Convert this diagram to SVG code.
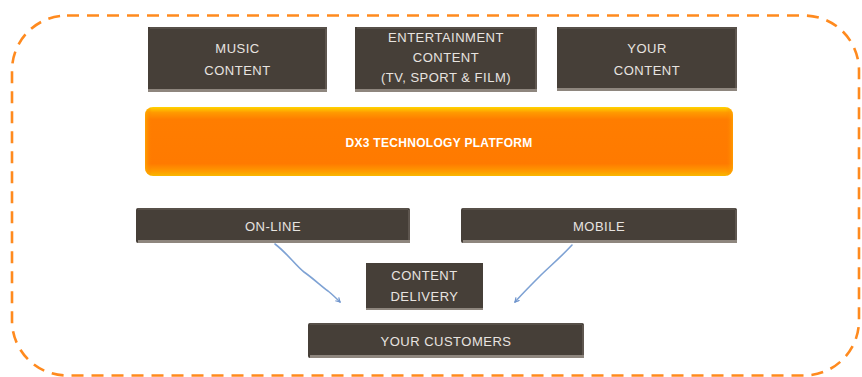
<svg xmlns="http://www.w3.org/2000/svg" width="862" height="377" viewBox="0 0 862 377">
  <defs>
    <style>
      .lbl { font-family: "Liberation Sans", Arial, sans-serif; font-size: 13px; fill: #E8E4E0; text-anchor: middle; letter-spacing: 0.5px; }
      .big { font-weight: bold; fill: #FFFFFF; font-size: 12px; letter-spacing: 0.3px; }
      .box { fill: #463F38; }
      .edge-b { fill: #8E867E; }
      .edge-t { fill: #575049; }
      .edge-r { fill: #5E564F; }
      .frame { fill: none; stroke: #FF8A1E; stroke-width: 2.6; stroke-dasharray: 12 8; }
      .link { fill: none; stroke: #7EA2D4; stroke-width: 1.6; stroke-linecap: round; }
    </style>
    <linearGradient id="orangeBar" x1="0" y1="0" x2="0" y2="1">
      <stop offset="0" stop-color="#FFD400"/>
      <stop offset="0.08" stop-color="#FF9A00"/>
      <stop offset="0.18" stop-color="#FF7D00"/>
      <stop offset="0.82" stop-color="#FF7A00"/>
      <stop offset="0.93" stop-color="#FF9A00"/>
      <stop offset="1" stop-color="#F8B800"/>
    </linearGradient>
    <linearGradient id="orangeSide" x1="0" y1="0" x2="1" y2="0">
      <stop offset="0" stop-color="#FFB000" stop-opacity="0.7"/>
      <stop offset="0.012" stop-color="#FF7A00" stop-opacity="0"/>
      <stop offset="0.988" stop-color="#FF7A00" stop-opacity="0"/>
      <stop offset="1" stop-color="#FFB000" stop-opacity="0.6"/>
    </linearGradient>
    <marker id="tip" viewBox="0 0 10 10" refX="8" refY="5" markerWidth="6" markerHeight="6" orient="auto" markerUnits="userSpaceOnUse">
      <path d="M1,1 L8,5 L1,9" fill="none" stroke="#6F94CC" stroke-width="2"/>
    </marker>
  </defs>

  <!-- dashed outline -->
  <rect class="frame" x="12" y="15.5" width="847" height="360" rx="55" ry="55"/>

  <!-- top row: content sources -->
  <g id="music">
    <rect class="box" x="148" y="27" width="179" height="65"/>
    <rect class="edge-t" x="150" y="27" width="177" height="2"/>
    <rect class="edge-r" x="325" y="29" width="2" height="61"/>
    <rect class="edge-b" x="148" y="89" width="179" height="3"/>
    <text class="lbl" x="237.5" y="52.5">MUSIC</text>
    <text class="lbl" x="237.5" y="74.5">CONTENT</text>
  </g>

  <g id="entertainment">
    <rect class="box" x="355" y="27" width="182" height="65"/>
    <rect class="edge-t" x="357" y="27" width="180" height="2"/>
    <rect class="edge-r" x="535" y="29" width="2" height="61"/>
    <rect class="edge-b" x="355" y="89" width="182" height="3"/>
    <text class="lbl" x="446" y="42">ENTERTAINMENT</text>
    <text class="lbl" x="446" y="62">CONTENT</text>
    <text class="lbl" x="446" y="82">(TV, SPORT &amp; FILM)</text>
  </g>

  <g id="your-content">
    <rect class="box" x="557" y="27" width="180" height="64"/>
    <rect class="edge-t" x="559" y="27" width="178" height="2"/>
    <rect class="edge-r" x="735" y="29" width="2" height="60"/>
    <rect class="edge-b" x="557" y="88" width="180" height="3"/>
    <text class="lbl" x="647" y="52.5">YOUR</text>
    <text class="lbl" x="647" y="74.5">CONTENT</text>
  </g>

  <!-- platform bar -->
  <g id="platform">
    <rect x="145" y="107" width="588" height="69" rx="8" ry="8" fill="url(#orangeBar)"/>
    <rect x="145" y="107" width="588" height="69" rx="8" ry="8" fill="url(#orangeSide)"/>
    <text class="lbl big" x="439" y="146.5">DX3 TECHNOLOGY PLATFORM</text>
  </g>

  <!-- delivery channels -->
  <g id="online">
    <rect class="box" x="136" y="208" width="274" height="35" rx="2"/>
    <rect class="edge-t" x="138" y="208" width="270" height="2"/>
    <rect class="edge-r" x="408" y="210" width="2" height="31"/>
    <rect class="edge-b" x="138" y="240" width="272" height="3"/>
    <text class="lbl" x="273" y="230.5">ON-LINE</text>
  </g>

  <g id="mobile">
    <rect class="box" x="461" y="208" width="276" height="35" rx="2"/>
    <rect class="edge-t" x="463" y="208" width="272" height="2"/>
    <rect class="edge-r" x="735" y="210" width="2" height="31"/>
    <rect class="edge-b" x="463" y="240" width="274" height="3"/>
    <text class="lbl" x="599" y="230.5">MOBILE</text>
  </g>

  <g id="content-delivery">
    <rect class="box" x="366" y="263" width="117" height="47"/>
    <rect class="edge-b" x="366" y="308" width="117" height="2"/>
    <text class="lbl" x="424.5" y="280">CONTENT</text>
    <text class="lbl" x="424.5" y="301">DELIVERY</text>
  </g>

  <g id="customers">
    <rect class="box" x="308" y="323" width="276" height="35" rx="2"/>
    <rect class="edge-t" x="310" y="323" width="272" height="2"/>
    <rect class="edge-r" x="582" y="325" width="2" height="31"/>
    <rect class="edge-b" x="310" y="355" width="274" height="3"/>
    <text class="lbl" x="446" y="345.5">YOUR CUSTOMERS</text>
  </g>

  <!-- connectors -->
  <g id="connectors">
    <path class="link" d="M275,244 C288,254 296,266 304,272 C314,279 322,287 328,291 C333,295 336,298 340,302" marker-end="url(#tip)"/>
    <path class="link" d="M572,245 C560,258 548,268 540,276 C530,286 522,294 515,302" marker-end="url(#tip)"/>
  </g>
</svg>
